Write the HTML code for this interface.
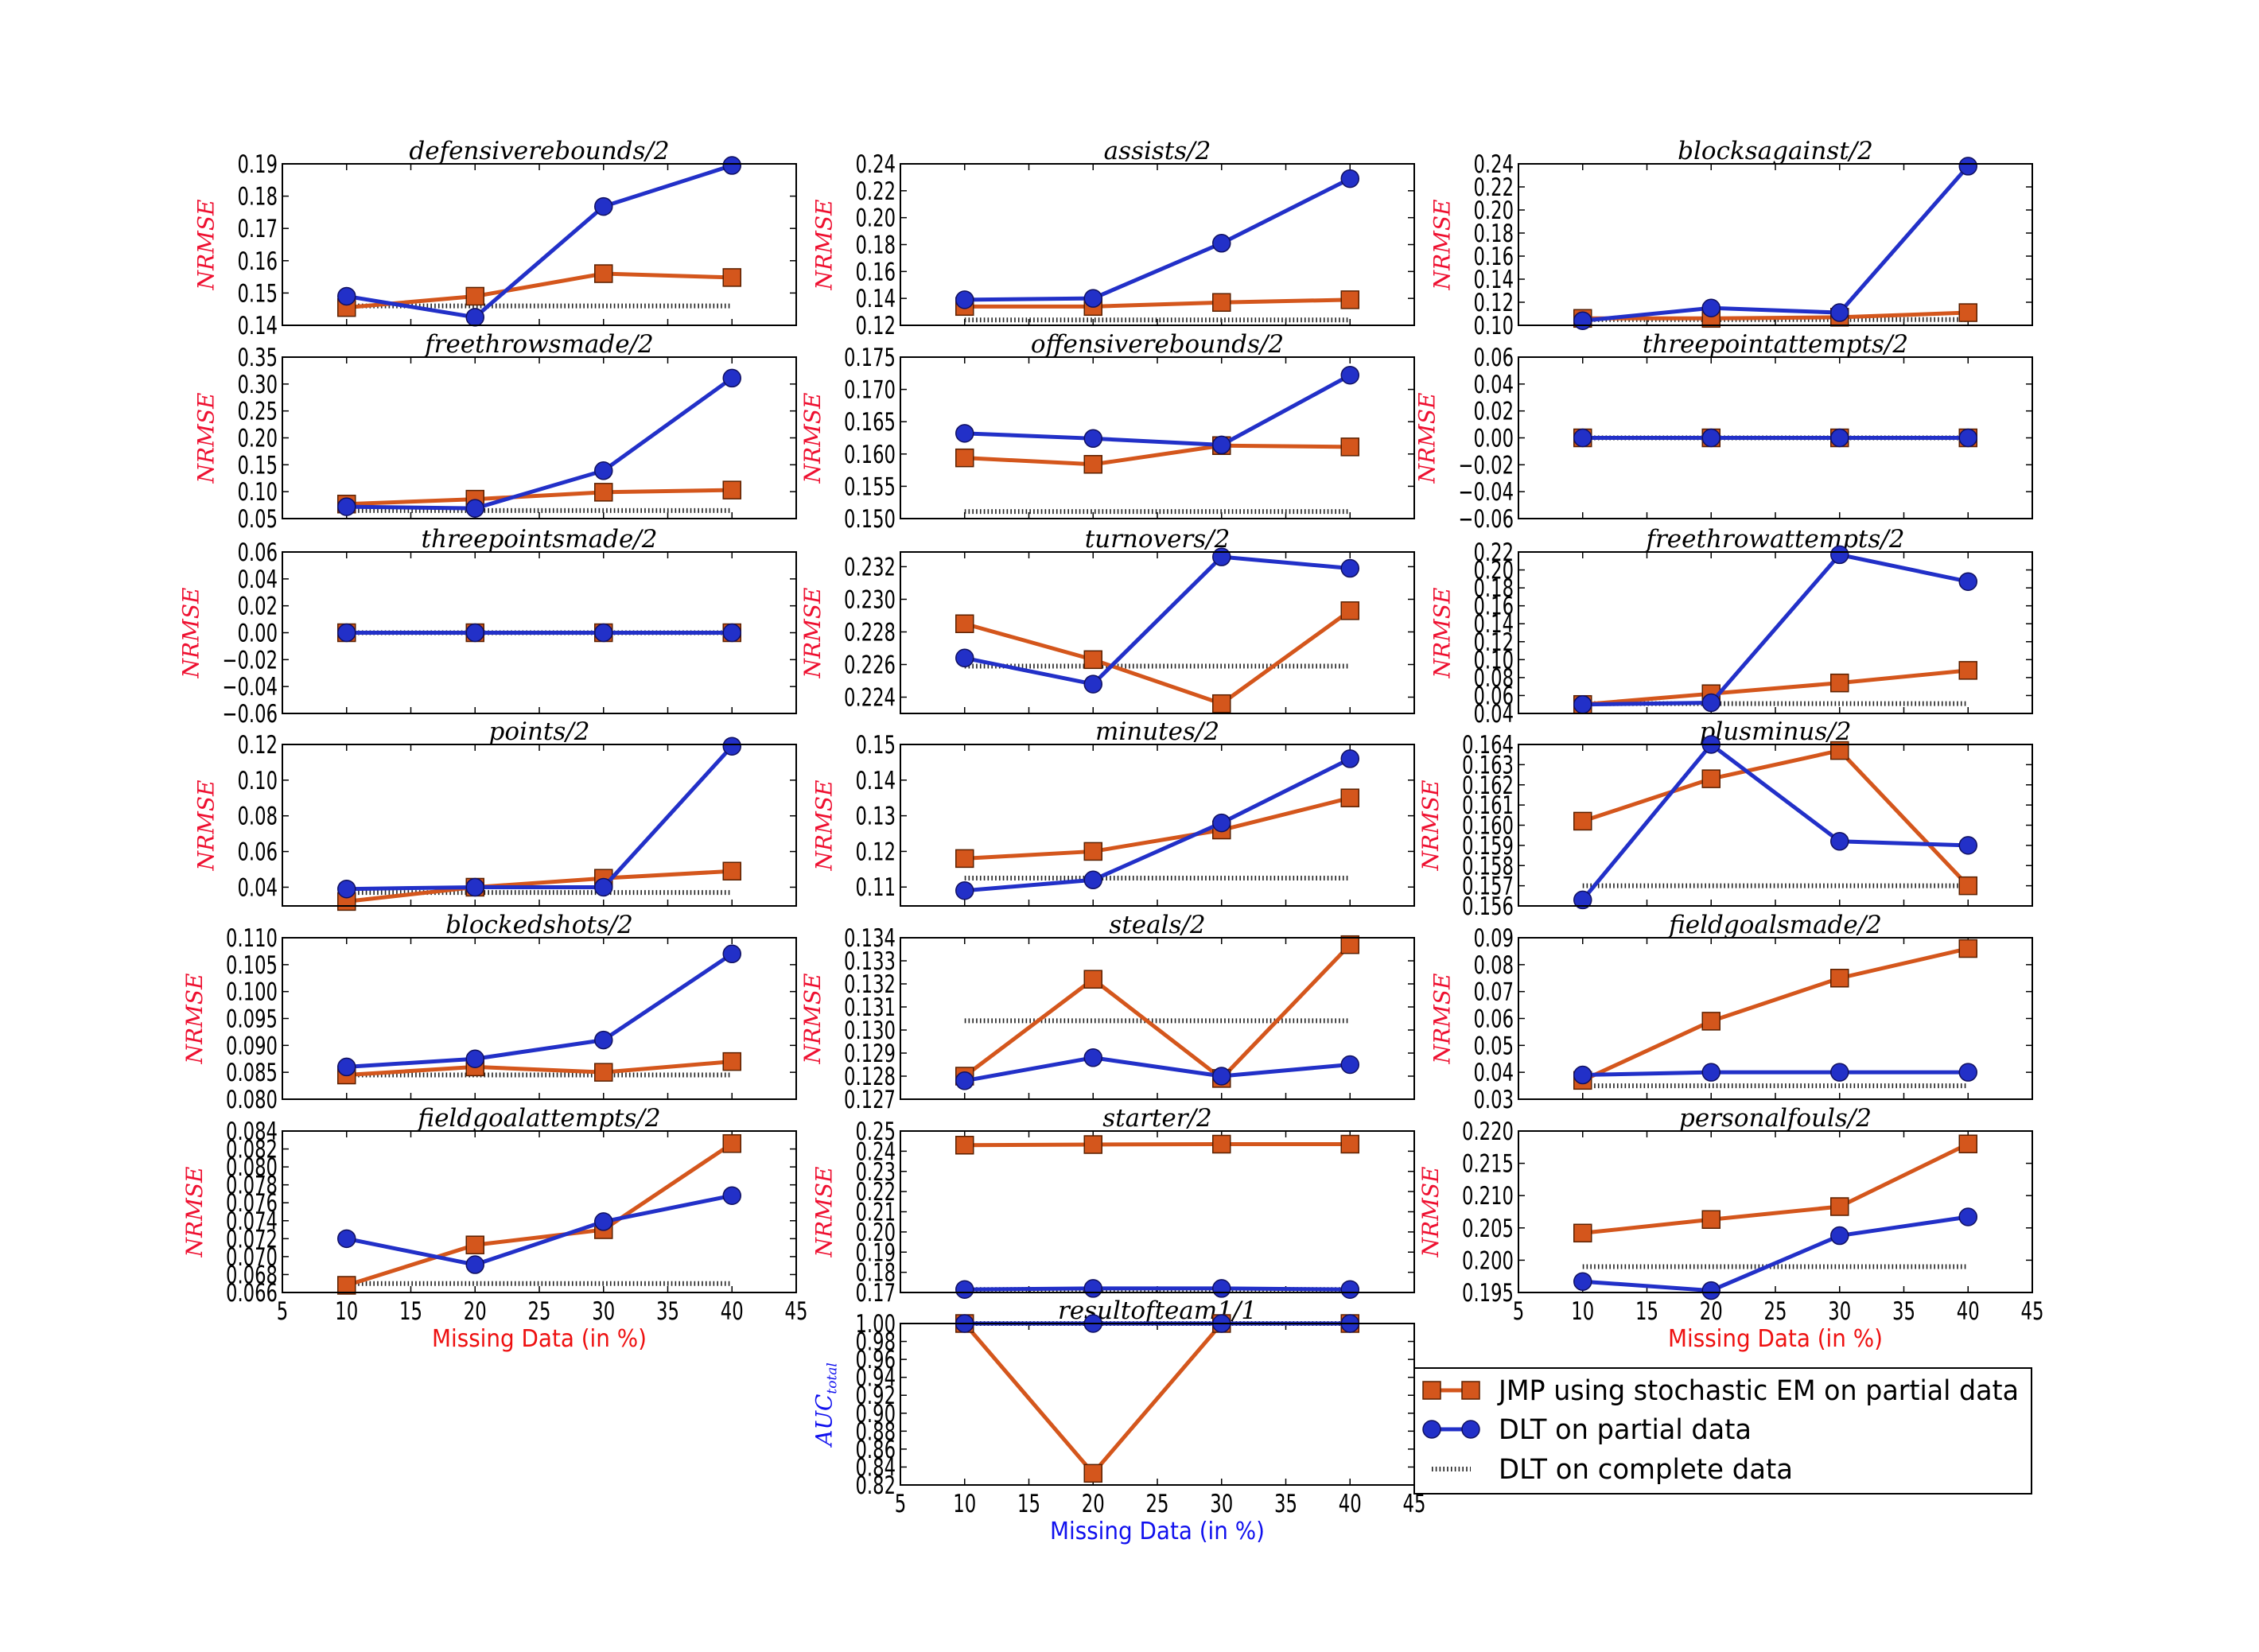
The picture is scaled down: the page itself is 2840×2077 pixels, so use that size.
<!DOCTYPE html>
<html><head><meta charset="utf-8"><style>
html,body{margin:0;padding:0;background:#fff;}
svg{display:block;}
text{font-family:"DejaVu Sans","Liberation Sans",sans-serif;}
.tt{font-family:"DejaVu Serif","Liberation Serif",serif;font-style:italic;}
</style></head><body>
<svg id="fig" width="2840" height="2077" viewBox="0 0 2840 2077" xmlns="http://www.w3.org/2000/svg"></svg>
<script>
const categories=[10,20,30,40];
const titles=["defensiverebounds/2","assists/2","blocksagainst/2","freethrowsmade/2","offensiverebounds/2","threepointattempts/2","threepointsmade/2","turnovers/2","freethrowattempts/2","points/2","minutes/2","plusminus/2","blockedshots/2","steals/2","fieldgoalsmade/2","fieldgoalattempts/2","starter/2","personalfouls/2","resultofteam1/1"];
const jmpValues=[[0.1455,0.149,0.156,0.1548],[0.134,0.134,0.137,0.139],[0.106,0.106,0.107,0.111],[0.077,0.086,0.099,0.103],[0.1594,0.1584,0.1613,0.1611],[0,0,0,0],[0,0,0,0],[0.2285,0.2263,0.2236,0.2293],[0.05,0.062,0.074,0.088],[0.032,0.040,0.045,0.049],[0.118,0.120,0.126,0.135],[0.1602,0.1623,0.1637,0.1570],[0.0845,0.086,0.085,0.087],[0.128,0.1322,0.1279,0.1337],[0.037,0.059,0.075,0.086],[0.0668,0.0713,0.0730,0.0826],[0.243,0.2433,0.2435,0.2435],[0.2042,0.2063,0.2083,0.2180],[1.0,0.833,1.0,1.0]];
const dltValues=[[0.149,0.1425,0.1768,0.1895],[0.139,0.140,0.181,0.229],[0.104,0.115,0.111,0.238],[0.072,0.069,0.139,0.311],[0.1632,0.1624,0.1614,0.1722],[0,0,0,0],[0,0,0,0],[0.2264,0.2248,0.2326,0.2319],[0.05,0.052,0.217,0.187],[0.039,0.040,0.040,0.119],[0.109,0.112,0.128,0.146],[0.1563,0.1640,0.1592,0.1590],[0.086,0.0875,0.091,0.107],[0.1278,0.1288,0.1280,0.1285],[0.039,0.040,0.040,0.040],[0.0720,0.0691,0.0739,0.0768],[0.1715,0.172,0.172,0.1715],[0.1967,0.1953,0.2038,0.2067],[1,1,1,1]];
const completeValues=[0.146,0.124,0.105,0.065,0.1511,0,0,0.2259,0.051,0.037,0.1125,0.1570,0.0845,0.1304,0.035,0.0670,0.1715,0.1990,1.0];
const yMins=[0.14,0.12,0.10,0.05,0.150,-0.06,-0.06,0.2230,0.04,0.0295,0.1047,0.156,0.080,0.127,0.03,0.066,0.17,0.195,0.82];
const yMaxs=[0.19,0.24,0.24,0.35,0.175,0.06,0.06,0.2329,0.22,0.12,0.15,0.164,0.110,0.134,0.09,0.084,0.25,0.220,1.00];
const tickStarts=[0.14,0.12,0.10,0.05,0.150,-0.06,-0.06,0.224,0.04,0.04,0.11,0.156,0.080,0.127,0.03,0.066,0.17,0.195,0.82];
const tickSteps=[0.01,0.02,0.02,0.05,0.005,0.02,0.02,0.002,0.02,0.02,0.01,0.001,0.005,0.001,0.01,0.002,0.01,0.005,0.02];
const tickDecimals=[2,2,2,2,3,2,2,3,2,2,2,3,3,3,2,3,2,3,2];
const xTickLabels=["5","10","15","20","25","30","35","40","45"];
const legendLabels=["JMP using stochastic EM on partial data","DLT on partial data","DLT on complete data"];

const svg=document.getElementById('fig');
const NS='http://www.w3.org/2000/svg';
function mk(tag,attrs,parent){const e=document.createElementNS(NS,tag);for(const k in attrs)e.setAttribute(k,attrs[k]);(parent||svg).appendChild(e);return e;}
const colL=[355,1132,1909],W=646,H=203;
const rowT=[206,449,694,936,1179,1422,1664];
const ORANGE='#d4561c',BLUE='#2230c8';
function panelPos(i){if(i===18)return [colL[1],rowT[6]];return [colL[i%3],rowT[Math.floor(i/3)]];}
function labW(s){let w=0;for(const c of s){w+=c==='.'?7:(c==='\u2212'?19:14.5);}return w;}

for(let i=0;i<titles.length;i++){
  const [L,T]=panelPos(i);
  const g=mk('g',{});
  
  
  const xs=v=>L+(v-5)/40*W;
  const ys=v=>T+H-(v-yMins[i])/(yMaxs[i]-yMins[i])*H;
  let maxW=0;
  for(let k=0;;k++){
    const v=tickStarts[i]+k*tickSteps[i];
    if(v>yMaxs[i]+1e-9)break;
    const y=ys(v);
    mk('line',{x1:L,x2:L+8,y1:y,y2:y,stroke:'#000','stroke-width':1.5},g);
    mk('line',{x1:L+W-8,x2:L+W,y1:y,y2:y,stroke:'#000','stroke-width':1.5},g);
    let s=v.toFixed(tickDecimals[i]);if(Math.abs(v)<1e-9)s=(0).toFixed(tickDecimals[i]);
    s=s.replace('-','\u2212');
    const w=labW(s);maxW=Math.max(maxW,w);
    const t=mk('text',{x:L-6,y:y+11,'font-size':31,'text-anchor':'end',textLength:w,lengthAdjust:'spacingAndGlyphs'},g);
    
    
    t.textContent=s;
  }
  for(let k=0;k<9;k++){
    const v=5+k*5,x=xs(v);
    mk('line',{x1:x,x2:x,y1:T+H,y2:T+H-8,stroke:'#000','stroke-width':1.5},g);
    mk('line',{x1:x,x2:x,y1:T,y2:T+8,stroke:'#000','stroke-width':1.5},g);
  }
  const bottom=(i===15||i===17||i===18);
  if(bottom){
    for(let k=0;k<9;k++){
      const s=xTickLabels[k];
      const t=mk('text',{x:xs(5+k*5),y:T+H+34,'font-size':31,'text-anchor':'middle',textLength:labW(s),lengthAdjust:'spacingAndGlyphs'},g);
      
      
      t.textContent=s;
    }
    const xl=mk('text',{x:L+W/2,y:T+H+68,'font-size':30,'text-anchor':'middle',fill:i===18?'#1010ee':'#ee1010',textLength:270,lengthAdjust:'spacingAndGlyphs'},g);
    
    
    xl.textContent='Missing Data (in %)';
  }
  const off=6+maxW+30;
  const yl=mk('text',{class:'tt',x:0,y:0,'font-size':28,'text-anchor':'middle',fill:i===18?'#1010ee':'#ee1030',transform:`translate(${L-off},${T+H/2}) rotate(-90)`},g);
  
  
  if(i===18){yl.textContent='AUC';const ts=mk('tspan',{'font-size':17,dy:6},yl);ts.textContent='total';}
  else yl.textContent='NRMSE';
  const tt=mk('text',{class:'tt',x:L+W/2,y:T-6,'font-size':31,'text-anchor':'middle'},g);
  
  
  tt.textContent=titles[i];
  const cl=mk('line',{x1:xs(categories[0]),x2:xs(categories[3]),y1:ys(completeValues[i]),y2:ys(completeValues[i]),stroke:'#222','stroke-width':6,'stroke-dasharray':'1.6,3.2'},g);
  
  
  const jp=categories.map((c,k)=>xs(c)+','+ys(jmpValues[i][k])).join(' ');
  const jl=mk('polyline',{points:jp,fill:'none',stroke:ORANGE,'stroke-width':5},g);
  
  
  categories.forEach((c,k)=>{
    const r=mk('rect',{x:xs(c)-11,y:ys(jmpValues[i][k])-11,width:22,height:22,fill:ORANGE,stroke:'#5a2000','stroke-width':1.5},g);
    
    
  });
  const dp=categories.map((c,k)=>xs(c)+','+ys(dltValues[i][k])).join(' ');
  const dl=mk('polyline',{points:dp,fill:'none',stroke:BLUE,'stroke-width':5},g);
  
  
  categories.forEach((c,k)=>{
    const m=mk('ellipse',{cx:xs(c),cy:ys(dltValues[i][k]),rx:11,ry:11,fill:BLUE,stroke:'#101060','stroke-width':1.5},g);
    
    
  });
  mk('rect',{x:L,y:T,width:W,height:H,fill:'none',stroke:'#000','stroke-width':2},g);
}
const lg=mk('g',{});


mk('rect',{x:1778,y:1720,width:776,height:158,fill:'#fff',stroke:'#000','stroke-width':2},lg);
const ly=[1748,1797,1847];
const lw=[654,318,370];
for(let k=0;k<3;k++){
  const e=mk('g',{},lg);
  
  
  if(k===0){mk('line',{x1:1800,x2:1849,y1:ly[k],y2:ly[k],stroke:ORANGE,'stroke-width':5},e);
    [1800,1849].forEach(x=>mk('rect',{x:x-11,y:ly[k]-11,width:22,height:22,fill:ORANGE,stroke:'#5a2000','stroke-width':1.5},e));}
  else if(k===1){mk('line',{x1:1800,x2:1849,y1:ly[k],y2:ly[k],stroke:BLUE,'stroke-width':5},e);
    [1800,1849].forEach(x=>mk('circle',{cx:x,cy:ly[k],r:11,fill:BLUE,stroke:'#101060','stroke-width':1.5},e));}
  else mk('line',{x1:1800,x2:1849,y1:ly[k],y2:ly[k],stroke:'#222','stroke-width':6,'stroke-dasharray':'1.6,3.2'},e);
  const t=mk('text',{x:1884,y:ly[k]+12,'font-size':35,textLength:lw[k],lengthAdjust:'spacingAndGlyphs'},e);
  t.textContent=legendLabels[k];
}
</script>
</body></html>
